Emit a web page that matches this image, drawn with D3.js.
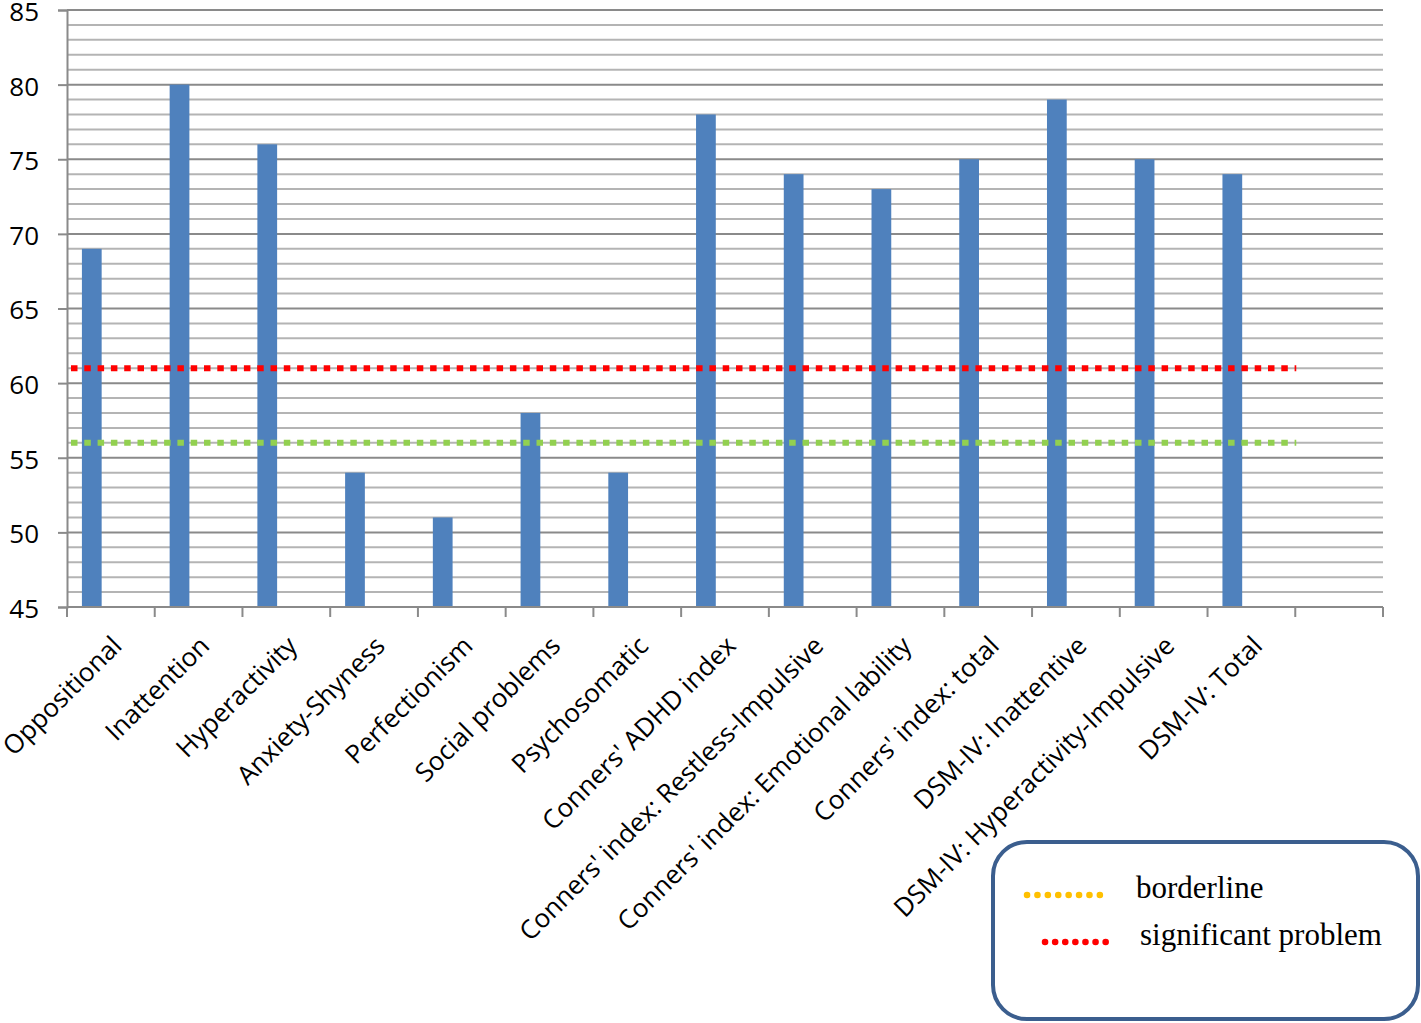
<!DOCTYPE html>
<html>
<head>
<meta charset="utf-8">
<script src="https://cdn.jsdelivr.net/npm/d3@7"></script>
<style>
  body { margin: 0; background: #fff; }
  svg { display: block; }
</style>
</head>
<body>
<div id="chart"></div>
<script>
const categories = [
  "Oppositional", "Inattention", "Hyperactivity", "Anxiety-Shyness", "Perfectionism",
  "Social problems", "Psychosomatic", "Conners' ADHD index",
  "Conners' index: Restless-Impulsive", "Conners' index: Emotional lability",
  "Conners' index: total", "DSM-IV: Inattentive", "DSM-IV: Hyperactivity-Impulsive",
  "DSM-IV: Total"
];
const scores = [69, 80, 76, 54, 51, 58, 54, 78, 74, 73, 75, 79, 75, 74];
const thresholds = [
  { name: "borderline", value: 56, color: "#92d050", legendColor: "#ffc000" },
  { name: "significant problem", value: 61, color: "#ff0000", legendColor: "#ff0000" }
];
const yTicks = [45, 50, 55, 60, 65, 70, 75, 80, 85];

const width = 1421, height = 1023;
const margin = { top: 10, right: 38, bottom: 416, left: 67 };

const svg = d3.select("#chart").append("svg")
  .attr("width", width)
  .attr("height", height);

// one spare slot at the end, like the original sheet
const slots = categories.concat([""]);
const x = d3.scaleBand()
  .domain(slots.map((d, i) => i))
  .range([margin.left, width - margin.right])
  .paddingInner(0).paddingOuter(0);

const y = d3.scaleLinear()
  .domain([45, 85])
  .range([height - margin.bottom, margin.top]);

// gridlines
svg.append("g")
  .selectAll("line")
  .data(d3.range(46, 86))
  .enter()
  .append("line")
  .attr("x1", margin.left)
  .attr("x2", width - margin.right)
  .attr("y1", d => y(d))
  .attr("y2", d => y(d))
  .attr("stroke", d => d % 5 === 0 ? "#8a8a8a" : "#b4b4b4")
  .attr("stroke-width", 2);

// y axis
const yAxis = svg.append("g")
  .attr("transform", `translate(${margin.left},0)`)
  .call(d3.axisLeft(y).tickValues(yTicks).tickSize(9).tickPadding(19));

yAxis.select(".domain").attr("stroke", "#8a8a8a").attr("stroke-width", 2);
yAxis.selectAll(".tick line").attr("stroke", "#8a8a8a").attr("stroke-width", 2);
yAxis.selectAll(".tick text")
  .attr("dy", "0.4em")
  .style("font-family", "'Open Sans', sans-serif")
  .style("font-size", "26px")
  .attr("fill", "#000");

// bars
const bw = x.bandwidth();
svg.append("g")
  .selectAll("rect")
  .data(scores)
  .enter()
  .append("rect")
  .attr("x", (d, i) => x(i) + bw * 0.17)
  .attr("width", bw * 0.225)
  .attr("y", d => y(d))
  .attr("height", d => y(45) - y(d))
  .attr("fill", "#4f81bd");

// threshold lines
svg.append("g")
  .selectAll("line")
  .data(thresholds)
  .enter()
  .append("line")
  .attr("x1", x(0) + 4)
  .attr("x2", x(categories.length - 1) + bw + 1)
  .attr("y1", d => y(d.value))
  .attr("y2", d => y(d.value))
  .attr("stroke", d => d.color)
  .attr("stroke-width", 6)
  .attr("stroke-dasharray", "6.5 6.8");

// x axis
const xAxis = svg.append("g")
  .attr("transform", `translate(0,${y(45)})`);

xAxis.append("line")
  .attr("x1", margin.left)
  .attr("x2", width - margin.right)
  .attr("stroke", "#8a8a8a")
  .attr("stroke-width", 2);

xAxis.selectAll(".tk")
  .data(d3.range(slots.length + 1))
  .enter()
  .append("line")
  .attr("class", "tk")
  .attr("x1", i => i < slots.length ? x(i) : x(slots.length - 1) + bw)
  .attr("x2", i => i < slots.length ? x(i) : x(slots.length - 1) + bw)
  .attr("y1", 0)
  .attr("y2", 10)
  .attr("stroke", "#8a8a8a")
  .attr("stroke-width", 2);

xAxis.selectAll(".lbl")
  .data(categories)
  .enter()
  .append("text")
  .attr("class", "lbl")
  .attr("transform", (d, i) => `translate(${x(i) + bw / 2 + 6},${34}) rotate(-45)`)
  .attr("text-anchor", "end")
  .attr("dy", "0.35em")
  .style("font-family", "'Open Sans', sans-serif")
  .style("font-size", "26px")
  .attr("fill", "#000")
  .text(d => d);

// legend
const legend = svg.append("g");
legend.append("rect")
  .attr("x", 993)
  .attr("y", 842)
  .attr("width", 425)
  .attr("height", 177)
  .attr("rx", 34)
  .attr("fill", "#fff")
  .attr("stroke", "#3b5e8e")
  .attr("stroke-width", 4);

const legendRows = [
  { x0: 1027, x1: 1100, gap: 10.3, cy: 895, tx: 1136, ty: 898 },
  { x0: 1045, x1: 1106, gap: 10.0, cy: 942, tx: 1140, ty: 945 }
];

thresholds.forEach((t, i) => {
  const r = legendRows[i];
  legend.append("line")
    .attr("x1", r.x0).attr("x2", r.x1)
    .attr("y1", r.cy).attr("y2", r.cy)
    .attr("stroke", t.legendColor)
    .attr("stroke-width", 6.5)
    .attr("stroke-linecap", "round")
    .attr("stroke-dasharray", `0.1 ${r.gap}`);
  legend.append("text")
    .attr("x", r.tx)
    .attr("y", r.ty)
    .style("font-family", "'Liberation Serif', 'Times New Roman', serif")
    .style("font-size", "31px")
    .attr("fill", "#000")
    .text(t.name);
});
</script>
</body>
</html>
